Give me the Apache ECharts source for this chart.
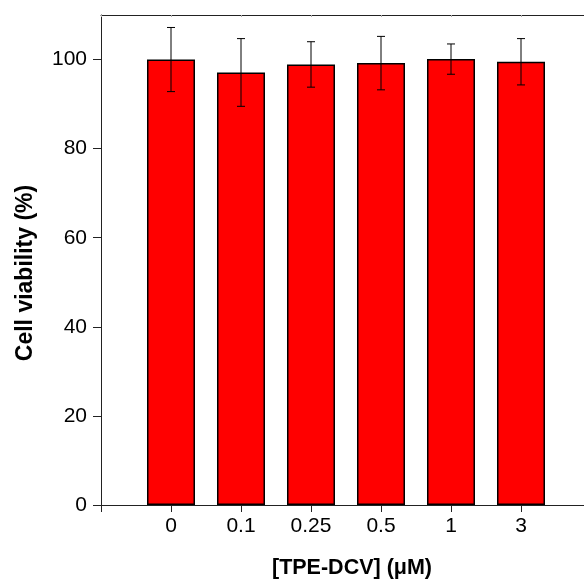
<!DOCTYPE html>
<html>
<head>
<meta charset="utf-8">
<script src="https://cdn.jsdelivr.net/npm/echarts@6/dist/echarts.min.js"></script>
<style>html,body{margin:0;padding:0;background:#fff}#c{width:584px;height:583px}</style>
</head>
<body>
<div id="c"></div>
<script>
const categories = ['0', '0.1', '0.25', '0.5', '1', '3'];
const viability = [100.0, 97.1, 98.9, 99.2, 100.1, 99.5];
const errors = [7.2, 7.6, 5.1, 6.0, 3.4, 5.2];
const yTicks = [0, 20, 40, 60, 80, 100];

const font = 'Liberation Sans, Arial, sans-serif';
const chart = echarts.init(document.getElementById('c'), null, {renderer: 'canvas'});

const barData = viability.map((v, i) => [i, v]);
const errData = viability.map((v, i) => [i, v - errors[i], v + errors[i]]);

chart.setOption({
  animation: false,
  backgroundColor: '#fff',
  grid: {left: 101, top: 15, right: -7, bottom: 78, outerBoundsMode: 'none', containLabel: false},
  xAxis: [{
    type: 'value', min: -1, max: 6, interval: 1,
    position: 'bottom',
    splitLine: {show: false},
    axisLine: {show: true, onZero: false, lineStyle: {color: '#222', width: 1}},
    axisTick: {show: true, inside: false, length: 7, lineStyle: {color: '#222'}},
    axisLabel: {formatter: v => (categories[v] !== undefined ? categories[v] : ''), color: '#000', fontSize: 21, fontFamily: font, margin: 11},
    name: '[TPE-DCV] (μM)', nameLocation: 'middle', nameGap: 52,
    nameTextStyle: {fontSize: 21.5, fontWeight: 'bold', color: '#000', fontFamily: font, padding: [0, 0, 0, 12]}
  }, {
    type: 'value', min: -1, max: 6, interval: 1,
    position: 'top',
    splitLine: {show: false},
    axisLine: {show: true, onZero: false, lineStyle: {color: '#222', width: 1}},
    axisTick: {show: true, inside: true, length: 2, lineStyle: {color: '#aaa'}},
    axisLabel: {show: false}
  }],
  yAxis: {
    type: 'value', min: 0, max: 110, interval: 20,
    splitLine: {show: false},
    axisLine: {show: true, onZero: false, lineStyle: {color: '#222', width: 1}},
    axisTick: {show: true, length: 8, customValues: yTicks, lineStyle: {color: '#222'}},
    axisLabel: {color: '#000', fontSize: 21, fontFamily: font, margin: 14, customValues: yTicks},
    name: 'Cell viability (%)', nameLocation: 'middle', nameGap: 64,
    nameTextStyle: {fontSize: 23, fontWeight: 'bold', color: '#000', fontFamily: font, padding: [0, 26, 0, 0]}
  },
  series: [{
    type: 'bar',
    data: barData,
    barWidth: 48,
    itemStyle: {color: '#ff0000', borderColor: '#000', borderWidth: 1.5}
  }, {
    type: 'custom',
    data: errData,
    z: 10,
    renderItem: function (params, api) {
      const x = api.value(0);
      const lo = api.coord([x, api.value(1)]);
      const hi = api.coord([x, api.value(2)]);
      const cap = 4;
      const style = {stroke: '#000', lineWidth: 1};
      return {
        type: 'group',
        children: [
          {type: 'line', shape: {x1: lo[0], y1: lo[1], x2: hi[0], y2: hi[1]}, style},
          {type: 'line', shape: {x1: hi[0] - cap, y1: hi[1], x2: hi[0] + cap, y2: hi[1]}, style},
          {type: 'line', shape: {x1: lo[0] - cap, y1: lo[1], x2: lo[0] + cap, y2: lo[1]}, style}
        ]
      };
    }
  }]
});
</script>
</body>
</html>
